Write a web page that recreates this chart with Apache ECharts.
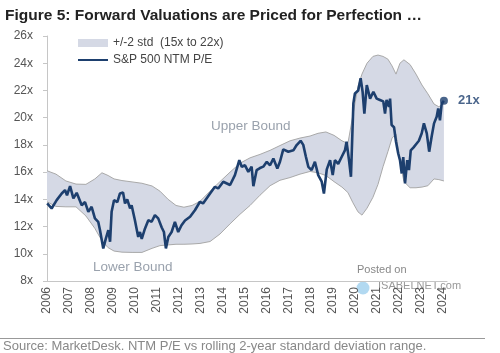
<!DOCTYPE html>
<html>
<head>
<meta charset="utf-8">
<script src="https://cdn.jsdelivr.net/npm/echarts@6/dist/echarts.min.js"></script>
<style>
  html, body { margin: 0; padding: 0; background: #fff; }
  #chart { width: 500px; height: 353px; }
</style>
</head>
<body>
<div id="chart"></div>
<script>
// S&P 500 NTM P/E (decimal years)
const peDates = [2006.51, 2006.71, 2006.94, 2007.17, 2007.32, 2007.41, 2007.55, 2007.70, 2007.85, 2008.08,
  2008.23, 2008.38, 2008.53, 2008.68, 2008.83, 2008.91, 2009.06, 2009.18, 2009.29, 2009.37,
  2009.44, 2009.55, 2009.70, 2009.82, 2009.96, 2010.05, 2010.15, 2010.28, 2010.35, 2010.50,
  2010.65, 2010.73, 2010.81, 2010.96, 2011.11, 2011.26, 2011.41, 2011.56, 2011.72, 2011.82,
  2011.91, 2012.02, 2012.17, 2012.32, 2012.47, 2012.62, 2012.78, 2013.01, 2013.23, 2013.46,
  2013.60, 2013.92, 2014.14, 2014.29, 2014.52, 2014.83, 2015.05, 2015.25, 2015.36, 2015.51,
  2015.66, 2015.81, 2015.89, 2016.04, 2016.19, 2016.34, 2016.50, 2016.65, 2016.80, 2016.98,
  2017.10, 2017.25, 2017.48, 2017.71, 2017.86, 2018.04, 2018.16, 2018.28, 2018.39, 2018.54,
  2018.69, 2018.84, 2019.00, 2019.10, 2019.23, 2019.38, 2019.50, 2019.60, 2019.75, 2019.91,
  2020.06, 2020.13, 2020.24, 2020.33, 2020.44, 2020.51, 2020.66, 2020.77, 2020.86, 2020.94,
  2021.05, 2021.20, 2021.35, 2021.50, 2021.65, 2021.80, 2021.88, 2021.95, 2022.06, 2022.11,
  2022.18, 2022.29, 2022.38, 2022.48, 2022.56, 2022.64, 2022.71, 2022.79, 2022.89, 2022.97,
  2023.05, 2023.17, 2023.32, 2023.42, 2023.55, 2023.65, 2023.78, 2023.89, 2024.00, 2024.11,
  2024.23, 2024.30, 2024.38, 2024.46, 2024.56]
const peValues = [13.70, 13.33, 13.94, 14.43, 14.68, 14.30, 14.97, 14.07, 14.48, 13.57,
  13.80, 13.08, 13.45, 12.60, 12.35, 11.74, 10.39, 11.13, 11.74, 10.88,
  13.08, 13.94, 13.80, 14.43, 14.50, 13.70, 14.00, 13.33, 13.57, 12.47,
  11.24, 11.60, 11.10, 11.86, 12.47, 12.35, 12.84, 12.60, 11.93, 11.60,
  10.39, 11.24, 11.60, 12.35, 11.60, 12.10, 12.45, 12.72, 13.20, 13.82,
  13.70, 14.43, 14.92, 14.80, 15.29, 15.05, 15.78, 16.88, 16.39, 16.50,
  16.02, 16.40, 14.97, 16.15, 16.30, 16.40, 16.76, 16.50, 17.00, 16.27,
  16.76, 17.67, 17.50, 17.60, 17.99, 18.30, 18.00, 17.13, 16.39, 16.15,
  16.76, 15.78, 15.30, 14.43, 16.20, 16.88, 15.78, 16.88, 16.60, 17.13,
  17.62, 18.23, 16.90, 15.66, 21.05, 21.78, 22.00, 22.90, 21.90, 20.30,
  22.40, 21.40, 21.90, 21.40, 21.30, 21.20, 20.30, 21.30, 20.80, 21.40,
  19.46, 19.30, 18.23, 17.37, 16.88, 15.90, 17.10, 15.17, 16.88, 16.15,
  17.60, 17.80, 18.10, 18.30, 18.85, 19.58, 18.85, 17.50, 18.60, 19.58,
  20.07, 20.68, 19.80, 21.05, 21.24]

// rolling +/-2 std band
const bandDates = [2006.50, 2006.91, 2007.36, 2007.82, 2008.27, 2008.68, 2009.00, 2009.28, 2009.55, 2009.91,
  2010.37, 2010.82, 2011.28, 2011.64, 2012.01, 2012.37, 2012.73, 2013.10, 2013.46, 2013.92,
  2014.37, 2014.83, 2015.28, 2015.74, 2016.19, 2016.65, 2017.10, 2017.56, 2018.01, 2018.47,
  2018.83, 2019.19, 2019.56, 2019.92, 2020.19, 2020.42, 2020.65, 2020.83, 2021.06, 2021.33,
  2021.56, 2021.79, 2022.01, 2022.20, 2022.38, 2022.56, 2022.74, 2023.02, 2023.29, 2023.56,
  2023.83, 2024.11, 2024.33, 2024.56]
const bandUpper = [16.10, 15.85, 15.35, 15.12, 15.10, 15.50, 15.95, 15.75, 15.50, 15.38,
  15.28, 15.18, 14.98, 14.60, 14.00, 13.55, 13.42, 13.55, 13.85, 14.60,
  15.30, 16.00, 16.65, 17.05, 17.30, 17.60, 17.95, 18.30, 18.50, 18.65,
  18.85, 18.95, 18.70, 18.30, 18.10, 20.20, 22.30, 23.20, 24.00, 24.50,
  24.60, 24.50, 24.30, 23.80, 23.20, 24.00, 24.25, 23.90, 23.20, 22.40,
  21.75, 21.00, 20.80, 21.05]
const bandLower = [13.82, 13.48, 13.45, 13.45, 12.78, 11.86, 10.95, 10.45, 10.20, 10.12,
  10.10, 10.10, 10.40, 10.60, 10.65, 10.70, 10.70, 10.72, 10.76, 10.90,
  11.45, 12.20, 12.90, 13.55, 14.30, 15.00, 15.40, 15.60, 15.85, 16.05,
  15.95, 15.75, 15.30, 14.90, 14.50, 13.75, 13.08, 12.84, 13.35, 14.15,
  15.10, 16.40, 17.50, 18.50, 18.80, 16.80, 15.30, 14.85, 14.85, 14.90,
  15.00, 15.50, 15.45, 15.35]

const font = 'Liberation Sans, Arial, sans-serif'
const navy = '#1d3f6e'
const bandFill = '#d5d9e5'
const edge = '#a9a9a9'
const bandName = '+/-2 std  (15x to 22x)'
const peName = 'S&P 500 NTM P/E'

const chart = echarts.init(document.getElementById('chart'))
const last = peValues.length - 1

chart.setOption({
  backgroundColor: '#fff',
  animation: false,
  title: {
    text: 'Figure 5: Forward Valuations are Priced for Perfection \u2026',
    left: 0,
    top: 3,
    textStyle: { fontFamily: font, fontSize: 15.5, fontWeight: 'bold', color: '#222' }
  },
  legend: {
    orient: 'vertical',
    left: 72,
    top: 32,
    itemWidth: 30,
    itemHeight: 8,
    itemGap: 5,
    textStyle: { fontFamily: font, fontSize: 12, color: '#444' },
    data: [
      { name: bandName, icon: 'rect', itemStyle: { color: bandFill, borderWidth: 0 } },
      { name: peName, itemStyle: { opacity: 0 } }
    ]
  },
  grid: { left: 47, right: 53, top: 36, bottom: 72 },
  xAxis: {
    type: 'value',
    min: 2006.5,
    max: 2024.7,
    interval: 1,
    splitLine: { show: false },
    axisTick: { show: false },
    axisLine: { lineStyle: { color: '#c6c6c6' } },
    axisLabel: {
      rotate: 90,
      margin: 6,
      fontFamily: font,
      fontSize: 12,
      color: '#555',
      formatter(v) {
        return Math.abs(v - Math.floor(v) - 0.5) < 0.01 ? String(Math.floor(v)) : ''
      }
    }
  },
  yAxis: {
    type: 'value',
    min: 8,
    max: 26,
    interval: 2,
    splitLine: { show: false },
    axisLine: { show: true, lineStyle: { color: '#c6c6c6' } },
    axisTick: { show: true, length: 4, lineStyle: { color: '#c6c6c6' } },
    axisLabel: { formatter: '{value}x', margin: 14, fontFamily: font, fontSize: 12, color: '#555' }
  },
  series: [
    {
      // filled band between lower and upper bound
      name: bandName,
      type: 'custom',
      itemStyle: { color: bandFill },
      renderItem(params, api) {
        const pts = bandDates.map((d, i) => api.coord([d, bandUpper[i]]))
        for (let i = bandDates.length - 1; i >= 0; i--) {
          pts.push(api.coord([bandDates[i], bandLower[i]]))
        }
        return { type: 'polygon', shape: { points: pts }, style: { fill: bandFill } }
      },
      data: [[bandDates[0], bandUpper[0]]],
      z: 1
    },
    {
      type: 'line',
      symbol: 'none',
      lineStyle: { color: edge, width: 1 },
      data: bandDates.map((d, i) => [d, bandUpper[i]]),
      z: 2
    },
    {
      type: 'line',
      symbol: 'none',
      lineStyle: { color: edge, width: 1 },
      data: bandDates.map((d, i) => [d, bandLower[i]]),
      z: 2
    },
    {
      name: peName,
      type: 'line',
      symbol: 'none',
      itemStyle: { color: navy },
      lineStyle: { color: navy, width: 2.6 },
      data: peDates.map((d, i) => [d, peValues[i]]),
      z: 3
    },
    {
      type: 'scatter',
      symbolSize: 8,
      itemStyle: { color: navy },
      label: {
        show: true,
        position: 'right',
        distance: 10,
        formatter: '21x',
        fontFamily: font,
        fontSize: 13,
        fontWeight: 'bold',
        color: navy
      },
      data: [[peDates[last], peValues[last]]],
      z: 4
    }
  ],
  graphic: [
    { type: 'text', left: 211, top: 119, style: { text: 'Upper Bound', font: '13.5px ' + font, fill: '#9aa2ad' } },
    { type: 'text', left: 93, top: 260, style: { text: 'Lower Bound', font: '13.5px ' + font, fill: '#9aa2ad' } },
    { type: 'text', left: 357, top: 264, style: { text: 'Posted on', font: '11px ' + font, fill: '#888' } },
    { type: 'circle', shape: { cx: 363, cy: 288, r: 6.5 }, style: { fill: '#9fd0ee', opacity: 0.8 } },
    { type: 'text', left: 378, top: 280, style: { text: 'ISABELNET.com', font: '11px ' + font, fill: '#999' } },
    { type: 'line', shape: { x1: 0, y1: 338.5, x2: 485, y2: 338.5 }, style: { stroke: '#999', lineWidth: 1 } },
    {
      type: 'text', left: 3, top: 340,
      style: { text: 'Source: MarketDesk. NTM P/E vs rolling 2-year standard deviation range.', font: '13px ' + font, fill: '#888' }
    }
  ]
})
</script>
</body>
</html>
